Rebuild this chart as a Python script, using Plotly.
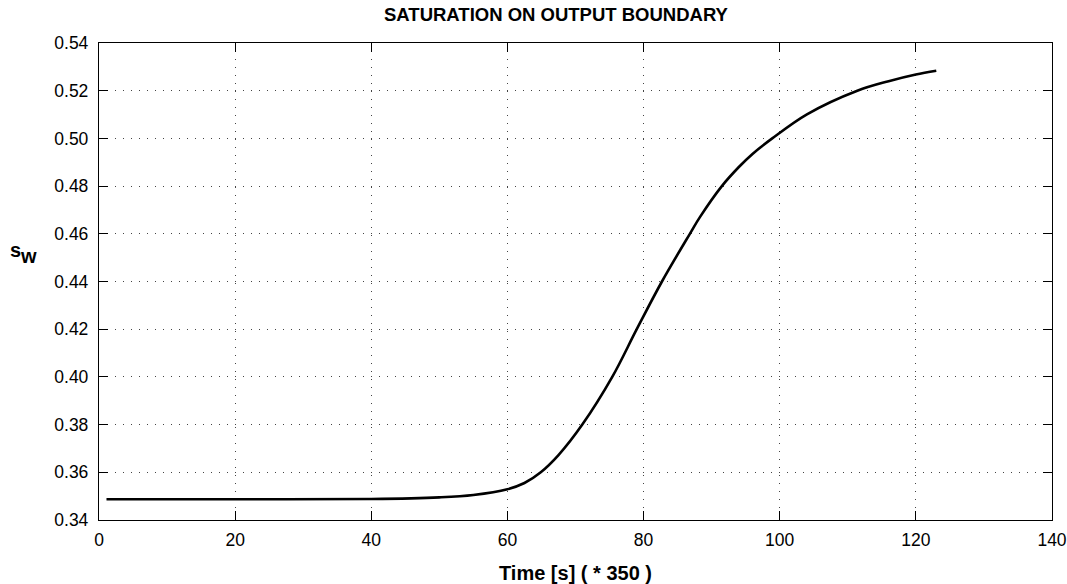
import plotly.graph_objects as go

# Water saturation at the outflow boundary versus scaled time
time_scaled = [1.1, 20, 40, 50, 55, 60, 62.5, 64.9, 67.5, 71.0, 75.4, 79.0, 82.7,
               86.8, 88.3, 91.5, 94.0, 96.0, 98.9, 104, 111.4, 116, 120, 123]
saturation = [0.3487, 0.3487, 0.3488, 0.3495, 0.3505, 0.3529, 0.3555, 0.3600, 0.3672,
              0.3800, 0.4000, 0.4200, 0.4400, 0.4600, 0.4671, 0.4800, 0.4880, 0.4935,
              0.5000, 0.5101, 0.5200, 0.5240, 0.5268, 0.5284]

x_ticks = [0, 20, 40, 60, 80, 100, 120, 140]
y_ticks = [0.34, 0.36, 0.38, 0.40, 0.42, 0.44, 0.46, 0.48, 0.50, 0.52, 0.54]
y_tick_text = [f"{v:.2f}" for v in y_ticks]

FONT = "Liberation Sans, Arial, Helvetica, sans-serif"

# plot-area geometry in pixels, used to place the y label
L, R, T, B = 99, 15, 43, 64
W, H = 1067, 584
PW, PH = W - L - R, H - T - B


def px_to_paper(px, py):
    return (px - L) / PW, (H - B - py) / PH


fig = go.Figure()
fig.add_trace(go.Scatter(
    x=time_scaled, y=saturation, mode="lines",
    line=dict(color="black", width=2.6, shape="spline", smoothing=1.0),
    showlegend=False, hoverinfo="skip",
))

axis_common = dict(
    showline=True, linecolor="black", linewidth=1.3, mirror="ticks",
    ticks="inside", ticklen=9, tickwidth=1.2, tickcolor="black",
    showgrid=True, gridcolor="#444444", gridwidth=1, griddash="1px,7px",
    zeroline=False, automargin=False,
    tickfont=dict(family=FONT, size=17.5, color="black"),
)

fig.update_xaxes(range=[0, 140], tickvals=x_ticks, ticklabelstandoff=4, **axis_common)
fig.update_yaxes(range=[0.34, 0.54], tickvals=y_ticks, ticktext=y_tick_text,
                 ticklabelstandoff=6, **axis_common)

sx, sy = px_to_paper(15, 250)
wx, wy = px_to_paper(28, 256)

fig.update_layout(
    width=W, height=H,
    margin=dict(l=L, r=R, t=T, b=B),
    paper_bgcolor="white", plot_bgcolor="white",
    font=dict(family=FONT, color="black"),
    title=dict(text="<b>SATURATION ON OUTPUT BOUNDARY</b>",
               x=(556 - L) / PW, xref="paper", xanchor="center",
               y=1, yref="container", yanchor="top", pad=dict(t=8),
               font=dict(family=FONT, size=18.5, color="black")),
    xaxis_title=dict(text="<b>Time [s] ( * 350 )</b>", standoff=19,
                     font=dict(family=FONT, size=20, color="black")),
    annotations=[
        dict(text="<b>s</b>", xref="paper", yref="paper", x=sx, y=sy,
             xanchor="center", yanchor="middle", showarrow=False,
             font=dict(family=FONT, size=20, color="black")),
        dict(text="<b>w</b>", xref="paper", yref="paper", x=wx, y=wy,
             xanchor="center", yanchor="middle", showarrow=False,
             font=dict(family=FONT, size=20, color="black")),
    ],
)

fig.write_html("out.html")
